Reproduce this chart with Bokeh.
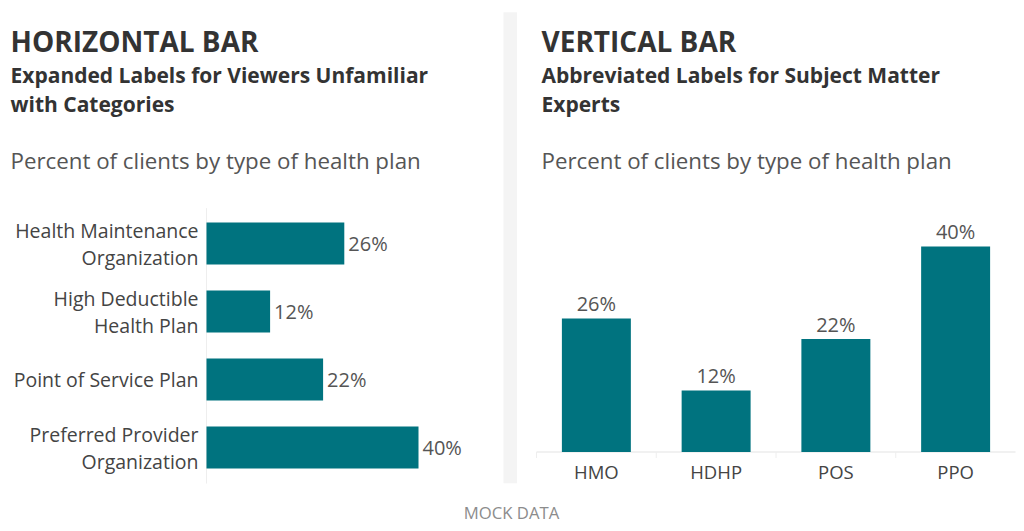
import numpy as np
from bokeh.plotting import figure
from bokeh.models import ColumnDataSource, Range1d, Label, BoxAnnotation
from bokeh.core.properties import value
from bokeh.embed import file_html
from bokeh.resources import INLINE

# ---- data ----
categories_long = ["Health Maintenance Organization", "High Deductible Health Plan",
                   "Point of Service Plan", "Preferred Provider Organization"]
tick_labels_long = ["Health Maintenance\nOrganization", "High Deductible\nHealth Plan",
                    "Point of Service Plan", "Preferred Provider\nOrganization"]
categories_short = ["HMO", "HDHP", "POS", "PPO"]
values = [26, 12, 22, 40]
value_labels = [f"{v}%" for v in values]

FONT = "Open Sans"
BAR = "#00737f"
DARK = "#333333"
MID = "#555555"
W, H = 1024, 531

p = figure(width=W, height=H, x_range=Range1d(0, W), y_range=Range1d(H, 0),
           x_axis_type=None, y_axis_type=None, toolbar_location=None,
           output_backend="svg", min_border=0, outline_line_color=None)
p.grid.visible = False

# scales for the two charts (pixel layout of the canvas)
H_PX = 5.3      # px per percent, horizontal chart
H_X0 = 206      # x of zero line
ROW = 68        # px per row
ROW0 = 243      # centre of first row
p.extra_x_ranges["hx"] = Range1d(-H_X0 / H_PX, (W - H_X0) / H_PX)
p.extra_y_ranges["hy"] = Range1d((H - ROW0) / ROW, -ROW0 / ROW)

V_PX = 5.135    # px per percent, vertical chart
V_Y0 = 451.5    # y of baseline
COL = 119.75    # px per category
COL0 = 536      # left edge of first category
p.extra_x_ranges["vx"] = Range1d(-COL0 / COL - 0.5, (W - COL0) / COL - 0.5)
p.extra_y_ranges["vy"] = Range1d(-(H - V_Y0) / V_PX, V_Y0 / V_PX)

idx = np.arange(len(values))

# ---- divider ----
p.add_layout(BoxAnnotation(left=503, right=516.5, top=11.7, bottom=482.7,
                           fill_color="#f4f4f4", fill_alpha=1, line_color=None))


# ---- headers ----
def header(x0, title, sub1, sub2):
    p.add_layout(Label(x=x0, y=40.5, text=title, text_font=FONT, text_font_size="28px",
                       text_font_style="bold", text_color=DARK, text_baseline="middle"))
    p.add_layout(Label(x=x0, y=74, text=sub1, text_font=FONT, text_font_size="21px",
                       text_font_style="bold", text_color=DARK, text_baseline="middle"))
    p.add_layout(Label(x=x0, y=103.5, text=sub2, text_font=FONT, text_font_size="21px",
                       text_font_style="bold", text_color=DARK, text_baseline="middle"))
    p.add_layout(Label(x=x0, y=159.5, text="Percent of clients by type of health plan",
                       text_font=FONT, text_font_size="22.3px", text_color=MID,
                       text_baseline="middle"))


header(10, "HORIZONTAL BAR", "Expanded Labels for Viewers Unfamiliar", "with Categories")
header(541, "VERTICAL BAR", "Abbreviated Labels for Subject Matter", "Experts")

# ---- horizontal bar chart ----
src_h = ColumnDataSource(dict(i=idx, val=values, lab=value_labels, tick=tick_labels_long,
                              zero=np.zeros(len(values))))
p.segment(x0=0, x1=0, y0=-0.52, y1=len(values) - 0.47, line_color="#eeeeee", line_width=1,
          x_range_name="hx", y_range_name="hy")
p.hbar(y="i", left=0, right="val", height=0.62, source=src_h, color=BAR, line_color=None,
       x_range_name="hx", y_range_name="hy")
p.text(x="val", y="i", text="lab", source=src_h, x_offset=4, text_baseline="middle",
       text_font=value(FONT), text_font_size=value("20px"), text_color=MID,
       x_range_name="hx", y_range_name="hy")
p.text(x="zero", y="i", text="tick", source=src_h, x_offset=-8, text_align="right",
       text_baseline="middle", text_line_height=1.0, text_font=value(FONT),
       text_font_size=value("19.5px"), text_color="#444444",
       x_range_name="hx", y_range_name="hy")

# ---- vertical bar chart ----
src_v = ColumnDataSource(dict(i=idx, val=values, lab=value_labels, cat=categories_short,
                              zero=np.zeros(len(values)), edge=idx - 0.5))
p.segment(x0=-0.5, x1=len(values) - 0.5, y0=0, y1=0, line_color="#e3e3e3", line_width=1,
          x_range_name="vx", y_range_name="vy")
p.segment(x0="edge", x1="edge", y0=0, y1=-6 / V_PX, source=src_v, line_color="#eeeeee",
          line_width=1, x_range_name="vx", y_range_name="vy")
p.vbar(x="i", bottom=0, top="val", width=0.576, source=src_v, color=BAR, line_color=None,
       x_range_name="vx", y_range_name="vy")
p.text(x="i", y="val", text="lab", source=src_v, y_offset=-15, text_align="center",
       text_baseline="middle", text_font=value(FONT), text_font_size=value("20px"),
       text_color=MID, x_range_name="vx", y_range_name="vy")
p.text(x="i", y="zero", text="cat", source=src_v, y_offset=19.3, text_align="center",
       text_baseline="middle", text_font=value(FONT), text_font_size=value("18.5px"),
       text_color="#444444", x_range_name="vx", y_range_name="vy")

# ---- footer ----
p.add_layout(Label(x=511, y=511.5, text="MOCK DATA", text_font=FONT, text_font_size="16.7px",
                   text_color="#8c8c8c", text_align="center", text_baseline="middle"))

open("out.html", "w").write(file_html(p, INLINE))
